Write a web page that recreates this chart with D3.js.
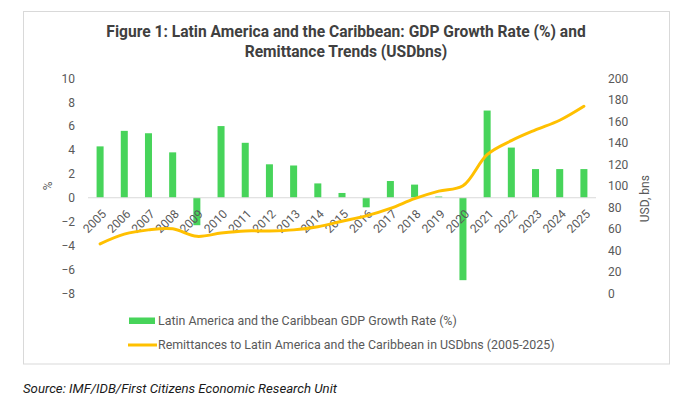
<!DOCTYPE html>
<html>
<head>
<meta charset="utf-8">
<script src="https://cdn.jsdelivr.net/npm/d3@7"></script>
<style>
  body { margin: 0; background: #fff; }
  svg { display: block; font-family: Roboto, Arial, sans-serif; }
</style>
</head>
<body>
<div id="chart"></div>
<script>
  // values
  const years = ["2005", "2006", "2007", "2008", "2009", "2010", "2011", "2012", "2013", "2014",
    "2015", "2016", "2017", "2018", "2019", "2020", "2021", "2022", "2023", "2024", "2025"];
  const gdpGrowth = [4.3, 5.6, 5.4, 3.8, -2.3, 6.0, 4.6, 2.8, 2.7, 1.2,
    0.4, -0.8, 1.4, 1.1, 0.1, -6.9, 7.3, 4.2, 2.4, 2.4, 2.4];
  const remittances = [46, 55, 59, 60, 53, 56, 58, 58, 59, 62,
    67, 72, 79, 88, 95, 100, 129, 142, 152, 161, 174];
  const leftTicks = [-8, -6, -4, -2, 0, 2, 4, 6, 8, 10];
  const rightTicks = [0, 20, 40, 60, 80, 100, 120, 140, 160, 180, 200];

  const gdpLabel = "Latin America and the Caribbean GDP Growth Rate (%)";
  const remitLabel = "Remittances to Latin America and the Caribbean in USDbns (2005-2025)";

  const W = 681, H = 399;
  const plot = { left: 88, right: 596, top: 78.3, bottom: 293.3 };
  const grey = "#595959";

  const svg = d3.select("#chart").append("svg")
    .attr("width", W)
    .attr("height", H);

  // frame
  svg.append("rect")
    .attr("x", 23.5).attr("y", 11.5)
    .attr("width", 646).attr("height", 352.5)
    .attr("fill", "#fff")
    .attr("stroke", "#d9d9d9");

  // title
  const title = svg.append("text")
    .attr("text-anchor", "middle")
    .attr("font-weight", "bold")
    .attr("font-size", "15.6px")
    .attr("fill", "#404040");
  title.append("tspan").attr("x", 346).attr("y", 37)
    .text("Figure 1: Latin America and the Caribbean: GDP Growth Rate (%) and");
  title.append("tspan").attr("x", 346).attr("y", 57)
    .text("Remittance Trends (USDbns)");

  const x = d3.scaleBand()
    .domain(years)
    .range([plot.left, plot.right])
    .paddingInner(0.71)
    .paddingOuter(0.355);

  const yLeft = d3.scaleLinear().domain([-8, 10]).range([plot.bottom, plot.top]);
  const yRight = d3.scaleLinear().domain([0, 200]).range([plot.bottom, plot.top]);

  // left axis
  const leftAxis = svg.append("g")
    .attr("transform", "translate(" + (plot.left - 13) + ",0)")
    .call(d3.axisLeft(yLeft).tickValues(leftTicks).tickSize(0).tickPadding(0));
  leftAxis.select(".domain").remove();
  leftAxis.selectAll("text")
    .attr("font-size", "12px")
    .attr("font-family", "Roboto, Arial, sans-serif")
    .attr("fill", grey);

  // right axis
  const rightAxis = svg.append("g")
    .attr("transform", "translate(" + (plot.right + 12) + ",0)")
    .call(d3.axisRight(yRight).tickValues(rightTicks).tickSize(0).tickPadding(0));
  rightAxis.select(".domain").remove();
  rightAxis.selectAll("text")
    .attr("font-size", "12px")
    .attr("font-family", "Roboto, Arial, sans-serif")
    .attr("fill", grey);

  // axis titles
  svg.append("text")
    .attr("transform", "translate(52," + yLeft(1) + ") rotate(-90)")
    .attr("text-anchor", "middle")
    .attr("font-size", "12px")
    .attr("fill", grey)
    .text("%");
  svg.append("text")
    .attr("transform", "translate(649," + yRight(88) + ") rotate(-90)")
    .attr("text-anchor", "middle")
    .attr("font-size", "12px")
    .attr("fill", grey)
    .text("USD, bns");

  // bars
  svg.append("g").selectAll("rect")
    .data(gdpGrowth)
    .join("rect")
    .attr("x", (d, i) => x(years[i]))
    .attr("width", x.bandwidth())
    .attr("y", d => yLeft(Math.max(0, d)))
    .attr("height", d => Math.abs(yLeft(d) - yLeft(0)))
    .attr("fill", "#47d45a");

  // zero line
  svg.append("line")
    .attr("x1", plot.left).attr("x2", plot.right)
    .attr("y1", yLeft(0)).attr("y2", yLeft(0))
    .attr("stroke", "#d9d9d9")
    .attr("stroke-width", 1);

  // category labels
  svg.append("g").selectAll("text")
    .data(years)
    .join("text")
    .attr("transform", d => "translate(" + (x(d) + x.bandwidth() / 2 + 1) + "," + (yLeft(0) + 11) + ") rotate(-45)")
    .attr("text-anchor", "end")
    .attr("dy", "0.71em")
    .attr("font-size", "12px")
    .attr("fill", grey)
    .text(d => d);

  // remittance line
  const line = d3.line()
    .x((d, i) => x(years[i]) + x.bandwidth() / 2)
    .y(d => yRight(d))
    .curve(d3.curveCatmullRom.alpha(0.5));

  svg.append("path")
    .datum(remittances)
    .attr("d", line)
    .attr("fill", "none")
    .attr("stroke", "#ffc000")
    .attr("stroke-width", 3)
    .attr("stroke-linecap", "round");

  // legend
  const legend = svg.append("g").attr("font-size", "12.4px").attr("fill", grey);
  legend.append("rect")
    .attr("x", 129).attr("y", 317.5)
    .attr("width", 26).attr("height", 6.5)
    .attr("fill", "#47d45a");
  legend.append("text")
    .attr("x", 158).attr("y", 321).attr("dy", "0.35em")
    .text(gdpLabel);
  legend.append("line")
    .attr("x1", 128).attr("x2", 157)
    .attr("y1", 345).attr("y2", 345)
    .attr("stroke", "#ffc000")
    .attr("stroke-width", 3);
  legend.append("text")
    .attr("x", 158).attr("y", 345).attr("dy", "0.35em")
    .text(remitLabel);

  // source note
  svg.append("text")
    .attr("x", 23).attr("y", 388).attr("dy", "0.35em")
    .attr("font-size", "13.2px")
    .attr("font-style", "italic")
    .attr("fill", "#1a1a1a")
    .text("Source: IMF/IDB/First Citizens Economic Research Unit");
</script>
</body>
</html>
